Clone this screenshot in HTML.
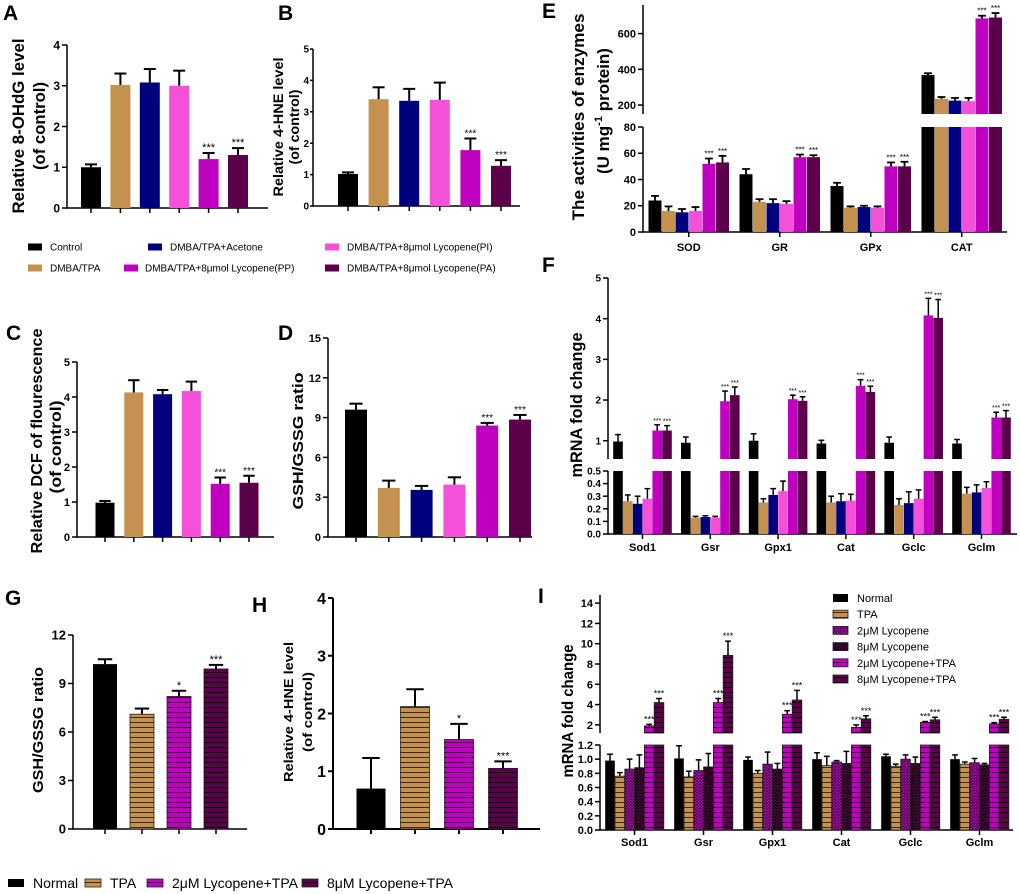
<!DOCTYPE html>
<html><head><meta charset="utf-8">
<style>
body{margin:0;background:#fff}
svg{display:block;font-family:"Liberation Sans",Arial,sans-serif}
</style></head>
<body>
<svg id="fig" width="1020" height="894" viewBox="0 0 1020 894" xmlns="http://www.w3.org/2000/svg">
<defs>
<pattern id="stTan" width="6" height="5" patternUnits="userSpaceOnUse"><rect width="6" height="5" fill="#C4914E"/><line x1="0" y1="2.5" x2="6" y2="2.5" stroke="#3a2a10" stroke-width="1"/></pattern>
<pattern id="stMag" width="6" height="5" patternUnits="userSpaceOnUse"><rect width="6" height="5" fill="#C000C0"/><line x1="0" y1="2.5" x2="6" y2="2.5" stroke="#3a0038" stroke-width="1"/></pattern>
<pattern id="stDark" width="6" height="5" patternUnits="userSpaceOnUse"><rect width="6" height="5" fill="#5C004C"/><line x1="0" y1="2.5" x2="6" y2="2.5" stroke="#000" stroke-width="1"/></pattern>
<pattern id="ckMag" width="3" height="3" patternUnits="userSpaceOnUse"><rect width="3" height="3" fill="#C000C0"/><rect width="1.5" height="1.5" fill="#300030"/><rect x="1.5" y="1.5" width="1.5" height="1.5" fill="#300030"/></pattern>
<pattern id="ckDark" width="3" height="3" patternUnits="userSpaceOnUse"><rect width="3" height="3" fill="#5C004C"/><rect width="1.5" height="1.5" fill="#000"/><rect x="1.5" y="1.5" width="1.5" height="1.5" fill="#000"/></pattern>
</defs>
</svg>
<script>
// ===== data =====
const A_values=[1.0,3.02,3.08,3.0,1.2,1.3];
const A_errors=[0.07,0.28,0.33,0.37,0.15,0.17];
const A_stars=['','','','','***','***'];
const A_ticks=[0,1,2,3,4];

const B_values=[1.02,3.4,3.35,3.38,1.78,1.28];
const B_errors=[0.05,0.38,0.38,0.55,0.37,0.18];
const B_stars=['','','','','***','***'];
const B_ticks=[0,1,2,3,4,5];

const C_values=[0.98,4.13,4.08,4.17,1.52,1.55];
const C_errors=[0.05,0.35,0.12,0.27,0.18,0.2];
const C_stars=['','','','','***','***'];
const C_ticks=[0,1,2,3,4,5];

const D_values=[9.6,3.7,3.55,3.95,8.4,8.85];
const D_errors=[0.45,0.55,0.3,0.55,0.2,0.35];
const D_stars=['','','','','***','***'];
const D_ticks=[0,3,6,9,12,15];

const E_categories=['SOD','GR','GPx','CAT'];
const E_values=[[24,16,15,16,52,53],[44,23,22,21.5,57,57],[35,18.5,19,18.5,50,50],[368,235,225,222,685,690]];
const E_errors=[[3.5,3.5,2.5,3,4,5],[4,2,3,2,2,1.5],[2.5,1,1,1,3,3.5],[10,10,15,18,15,25]];
const E_stars=[['','','','','***','***'],['','','','','***','***'],['','','','','***','***'],['','','','','***','***']];
const E_lowTicks=[0,20,40,60,80];
const E_highTicks=[200,400,600];

const F_categories=['Sod1','Gsr','Gpx1','Cat','Gclc','Gclm'];
const F_values=[[0.98,0.26,0.24,0.28,1.25,1.25],[0.95,0.13,0.135,0.13,1.97,2.12],[1.0,0.25,0.31,0.34,2.02,1.98],[0.93,0.25,0.26,0.265,2.35,2.2],[0.95,0.23,0.245,0.28,4.08,4.02],[0.93,0.32,0.33,0.365,1.57,1.57]];
const F_errors=[[0.17,0.05,0.06,0.08,0.14,0.12],[0.14,0.01,0.01,0.01,0.25,0.2],[0.17,0.03,0.05,0.08,0.1,0.1],[0.08,0.05,0.06,0.05,0.15,0.14],[0.14,0.05,0.09,0.07,0.42,0.45],[0.1,0.05,0.06,0.05,0.13,0.17]];
const F_stars=['','','','','***','***'];
const F_lowTicks=[0,0.1,0.2,0.3,0.4,0.5];
const F_highTicks=[1,2,3,4,5];

const G_values=[10.2,7.1,8.2,9.9];
const G_errors=[0.3,0.35,0.35,0.25];
const G_stars=['','','*','***'];
const G_ticks=[0,3,6,9,12];

const H_values=[0.7,2.12,1.55,1.05];
const H_errors=[0.53,0.3,0.27,0.12];
const H_stars=['','','*','***'];
const H_ticks=[0,1,2,3,4];

const I_categories=['Sod1','Gsr','Gpx1','Cat','Gclc','Gclm'];
const I_values=[[0.98,0.76,0.86,0.88,1.9,4.2],[1.01,0.75,0.84,0.89,4.2,8.85],[0.99,0.8,0.93,0.86,3.05,4.45],[1.0,0.91,0.96,0.94,1.75,2.6],[1.04,0.9,1.0,0.94,2.25,2.5],[1.0,0.93,0.95,0.92,2.1,2.55]];
const I_errors=[[0.09,0.05,0.14,0.18,0.15,0.4],[0.18,0.08,0.15,0.19,0.4,1.4],[0.04,0.04,0.17,0.08,0.35,0.95],[0.09,0.13,0.02,0.17,0.25,0.3],[0.03,0.03,0.06,0.09,0.08,0.25],[0.06,0.03,0.06,0.02,0.12,0.2]];
const I_stars=['','','','','***','***'];
const I_lowTicks=[0,0.2,0.4,0.6,0.8,1.0,1.2];
const I_highTicks=[2,4,6,8,10,12,14];

const legend1Labels=['Control','DMBA/TPA+Acetone','DMBA/TPA+8μmol Lycopene(PI)','DMBA/TPA','DMBA/TPA+8μmol Lycopene(PP)','DMBA/TPA+8μmol Lycopene(PA)'];
const legendILabels=['Normal','TPA','2μM Lycopene','8μM Lycopene','2μM Lycopene+TPA','8μM Lycopene+TPA'];
const legendGHLabels=['Normal','TPA','2μM Lycopene+TPA','8μM Lycopene+TPA'];

// ===== styles =====
const COL6=['#000000','#C4914E','#00007F','#F550D8','#C000C0','#5C004C'];
const FILL_I=['#000000','url(#stTan)','url(#ckMag)','url(#ckDark)','url(#stMag)','url(#stDark)'];
const FILL_GH=['#000000','url(#stTan)','url(#stMag)','url(#stDark)'];

const NS='http://www.w3.org/2000/svg';
const svg=document.getElementById('fig');
function mk(tag,parent){const e=document.createElementNS(NS,tag);parent.appendChild(e);return e;}
function setA(e,o){for(const k in o)e.setAttribute(k,o[k]);return e;}

function drawPanel(p){
  const g=mk('g',svg);
  
  
  const segY=(s,v)=>s.pb-(v-s.v0)/(s.v1-s.v0)*(s.pb-s.pt);
  const tLen=p.tickLen||5, tGap=p.tickGap||7;
  p.segs.forEach(s=>{
    const ax=mk('line',g);
    setA(ax,{x1:p.axisX,x2:p.axisX,y1:s.pb,y2:s.pt,stroke:'#000','stroke-width':p.axW||1.5});
    
    
    s.ticks.forEach((t,i)=>{
      const y=segY(s,t);
      const tl=mk('line',g);
      setA(tl,{x1:p.axisX-tLen,x2:p.axisX,y1:y,y2:y,stroke:'#000','stroke-width':p.axW||1.5});
      
      
      const tx=mk('text',g);
      setA(tx,{x:p.axisX-tGap,y:y+p.tickFont*0.36,'text-anchor':'end','font-size':p.tickFont,'font-weight':'bold'});
      tx.textContent=s.labels?s.labels[i]:String(t);
      
      
    });
  });
  const base=p.segs[0].pb;
  const xa=mk('line',g);
  setA(xa,{x1:p.axisX-1,x2:p.axisRight,y1:base,y2:base,stroke:'#000','stroke-width':p.axW||1.5});
  
  
  const nS=p.values[0].length;
  p.values.forEach((row,gi)=>{
    const gc=p.xFirst+gi*p.groupStep;
    const xt=mk('line',g);
    setA(xt,{x1:gc,x2:gc,y1:base,y2:base+5,stroke:'#000','stroke-width':p.axW||1.5});
    
    
    if(p.categories){
      const cl=mk('text',g);
      setA(cl,{x:gc,y:p.catY,'text-anchor':'middle','font-size':p.catFont,'font-weight':'bold'});
      cl.textContent=p.categories[gi];
      
      
    }
    row.forEach((v,k)=>{
      const cx=gc+(k-(nS-1)/2)*p.barStep;
      const fill=p.fill(gi,k);
      const patterned=fill.startsWith('url');
      p.segs.forEach(s=>{
        if(v>s.v0){
          const top=segY(s,Math.min(v,s.v1));
          const r=mk('rect',g);
          setA(r,{x:cx-p.barW/2,y:top,width:p.barW,height:s.pb-top,fill:fill});
          if(patterned)setA(r,{stroke:'#222','stroke-width':0.8});
          
          
        }
      });
      const e=p.errors[gi][k];
      let s=p.segs.find(s=>v>=s.v0&&v<=s.v1)||p.segs[p.segs.length-1];
      const vt=Math.min(v,s.v1);
      const et=v+e;
      const ey=segY(s,Math.min(et,s.v1));
      const el=mk('line',g);
      setA(el,{x1:cx,x2:cx,y1:segY(s,vt),y2:ey,stroke:'#000','stroke-width':p.errW});
      
      
      if(et<=s.v1){
        const cp=mk('line',g);
        setA(cp,{x1:cx-p.barW*0.3,x2:cx+p.barW*0.3,y1:ey,y2:ey,stroke:'#000','stroke-width':p.errW});
        
        
      }
      const st=p.stars(gi,k);
      if(st){
        const sx=mk('text',g);
        setA(sx,{x:cx,y:ey-2,'text-anchor':'middle','font-size':p.starFont,'font-weight':'normal'});
        sx.textContent=st;
        
        
      }
    });
  });
}
const wrap=a=>a.map(v=>[v]);

drawPanel({name:'panel-a-chart',axisX:67,axisRight:268,segs:[{v0:0,v1:4,pb:208,pt:45,ticks:A_ticks}],tickFont:12,
  values:wrap(A_values),errors:wrap(A_errors),stars:(g)=>A_stars[g],xFirst:91,groupStep:29.4,barStep:0,barW:20,fill:(g)=>COL6[g],errW:2,starFont:11});
drawPanel({name:'panel-b-chart',axisX:313,axisRight:520,segs:[{v0:0,v1:5,pb:206,pt:49,ticks:B_ticks}],tickFont:10,tickLen:3,tickGap:4,
  values:wrap(B_values),errors:wrap(B_errors),stars:(g)=>B_stars[g],xFirst:348,groupStep:30.6,barStep:0,barW:20,fill:(g)=>COL6[g],errW:2,starFont:10});
drawPanel({name:'panel-c-chart',axisX:77,axisRight:274,segs:[{v0:0,v1:5,pb:537,pt:362,ticks:C_ticks}],tickFont:11,
  values:wrap(C_values),errors:wrap(C_errors),stars:(g)=>C_stars[g],xFirst:105,groupStep:28.8,barStep:0,barW:19,fill:(g)=>COL6[g],errW:2,starFont:10});
drawPanel({name:'panel-d-chart',axisX:328,axisRight:532,segs:[{v0:0,v1:15,pb:537,pt:338,ticks:D_ticks}],tickFont:11,
  values:wrap(D_values),errors:wrap(D_errors),stars:(g)=>D_stars[g],xFirst:356,groupStep:32.8,barStep:0,barW:22,fill:(g)=>COL6[g],errW:2,starFont:10});
drawPanel({name:'panel-e-chart',axisX:643,axisRight:1007,
  segs:[{v0:0,v1:80,pb:232,pt:127,ticks:E_lowTicks},{v0:150,v1:760,pb:114,pt:5,ticks:E_highTicks}],tickFont:11,
  values:E_values,errors:E_errors,stars:(g,k)=>E_stars[g][k],categories:E_categories,catY:251,catFont:11,
  xFirst:688.75,groupStep:91,barStep:13.5,barW:13,fill:(g,k)=>COL6[k],errW:1.8,starFont:8});
drawPanel({name:'panel-f-chart',axisX:608,axisRight:1017,
  segs:[{v0:0,v1:0.5,pb:534,pt:471,ticks:F_lowTicks,labels:F_lowTicks.map(v=>v.toFixed(1))},{v0:0.55,v1:5,pb:459,pt:278,ticks:F_highTicks}],tickFont:10,
  values:F_values,errors:F_errors,stars:(g,k)=>F_stars[k],categories:F_categories,catY:551,catFont:11,
  xFirst:642.5,groupStep:67.8,barStep:9.8,barW:9.6,fill:(g,k)=>COL6[k],errW:1.5,starFont:7});
drawPanel({name:'panel-g-chart',axisX:73,axisRight:247,segs:[{v0:0,v1:12,pb:829,pt:635,ticks:G_ticks}],tickFont:13,
  values:wrap(G_values),errors:wrap(G_errors),stars:(g)=>G_stars[g],xFirst:105,groupStep:37,barStep:0,barW:24,fill:(g)=>FILL_GH[g],errW:2,starFont:11});
drawPanel({name:'panel-h-chart',axisX:333,axisRight:540,segs:[{v0:0,v1:4,pb:829,pt:598,ticks:H_ticks}],tickFont:16,
  values:wrap(H_values),errors:wrap(H_errors),stars:(g)=>H_stars[g],xFirst:371,groupStep:44,barStep:0,barW:29,fill:(g)=>FILL_GH[g],errW:2,starFont:11,axW:2});
drawPanel({name:'panel-i-chart',axisX:600,axisRight:1013,
  segs:[{v0:0,v1:1.2,pb:830,pt:745,ticks:I_lowTicks,labels:I_lowTicks.map(v=>v.toFixed(1))},{v0:1.2,v1:14.8,pb:733,pt:595,ticks:I_highTicks}],tickFont:11,
  values:I_values,errors:I_errors,stars:(g,k)=>I_stars[k],categories:I_categories,catY:846,catFont:11,
  xFirst:634.5,groupStep:69,barStep:9.8,barW:9.6,fill:(g,k)=>FILL_I[k],errW:1.5,starFont:9});

// ===== titles & letters =====
function vtitle(name,txt,x,cy,size,len){
  const t=mk('text',svg);
  setA(t,{x:x,y:cy,transform:'rotate(-90 '+x+' '+cy+')','text-anchor':'middle','font-size':size,'font-weight':'bold'});
  if(len)setA(t,{textLength:len,lengthAdjust:'spacingAndGlyphs'});
  t.textContent=txt;
  
  
  return t;
}
vtitle('y-axis-title-a','Relative 8-OHdG level',24,126,17,175);
vtitle('y-axis-title-a-sub','(of control)',45,126,17,88);
vtitle('y-axis-title-b','Relative 4-HNE level',283,127,14,139);
vtitle('y-axis-title-b-sub','(of control)',299,127,14,75);
vtitle('y-axis-title-c','Relative DCF of flourescence',42,441,16,225);
vtitle('y-axis-title-c-sub','(of control)',61,447,16,93);
vtitle('y-axis-title-d','GSH/GSSG ratio',303,441,15,137);
vtitle('y-axis-title-e','The activities of enzymes',584,117,17,207);
(function(){
  const x=609,cy=111;
  const t=mk('text',svg);
  setA(t,{x:x,y:cy,transform:'rotate(-90 '+x+' '+cy+')','text-anchor':'middle','font-size':17,'font-weight':'bold'});
  
  
  const a=mk('tspan',t);a.textContent='(U mg';
  const b=mk('tspan',t);setA(b,{'font-size':11,dy:-7});b.textContent='-1';
  const c=mk('tspan',t);setA(c,{dy:7});c.textContent=' protein)';
})();
vtitle('y-axis-title-f','mRNA fold change',582,405,17,145);
vtitle('y-axis-title-i','mRNA fold change',573,711,16,133);
vtitle('y-axis-title-g','GSH/GSSG ratio',43,730,15,126);
vtitle('y-axis-title-h','Relative 4-HNE level',293,712,13,140);
vtitle('y-axis-title-h-sub','(of control)',312,712,13,80);

const letters=[['A',3,20],['B',278,20],['C',6,340],['D',278,340],['E',542,18],['F',542,272],['G',5,605],['H',252,612],['I',538,603]];
letters.forEach(l=>{
  const t=mk('text',svg);
  setA(t,{x:l[1],y:l[2],'font-size':21,'font-weight':'bold'});
  t.textContent=l[0];
  
  
});

// ===== legends =====
function legendItem(gName,sx,sy,sw,sh,fill,tx,label,size){
  const g=mk('g',svg);
  
  
  const r=mk('rect',g);
  setA(r,{x:sx,y:sy-sh/2,width:sw,height:sh,fill:fill});
  if(fill.startsWith('url'))setA(r,{stroke:'#222','stroke-width':0.8});
  
  
  const t=mk('text',g);
  setA(t,{x:tx,y:sy+size*0.36,'font-size':size});
  t.textContent=label;
  
  
}
const l1pos=[[28,247,50],[148,247,170],[325,247,347],[28,268,50],[124,268,145],[325,268,347]];
const l1col=[COL6[0],COL6[2],COL6[3],COL6[1],COL6[4],COL6[5]];
legend1Labels.forEach((lab,i)=>{
  legendItem('legend-entry',l1pos[i][0],l1pos[i][1],14,7,l1col[i],l1pos[i][2],lab,10);
});
legendILabels.forEach((lab,i)=>{
  legendItem('legend-entry',833,598+i*16.2,15,8,FILL_I[i],857,lab,11);
});
const lGHpos=[[8,33],[85,110],[147,172],[302,327]];
legendGHLabels.forEach((lab,i)=>{
  legendItem('legend-entry',lGHpos[i][0],883,16,8,FILL_GH[i],lGHpos[i][1],lab,14);
});
</script>
</body></html>
